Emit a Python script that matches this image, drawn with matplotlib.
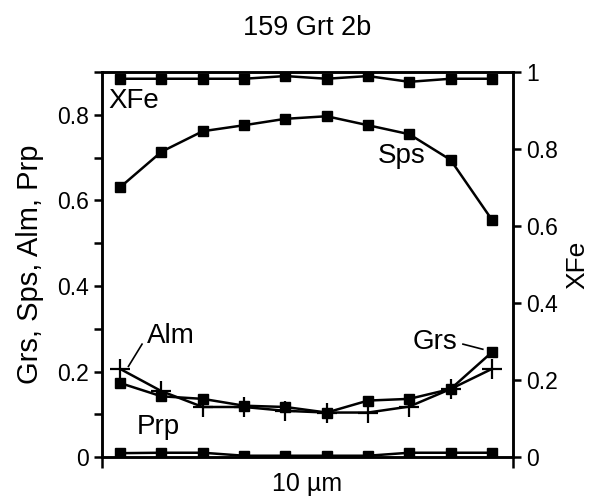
import numpy as np
import matplotlib
matplotlib.use("Agg")
from matplotlib import pyplot as plt

plt.rcParams['font.family'] = ['Liberation Sans', 'DejaVu Sans']

# analysis points along the profile
points = np.arange(1, 11)
sps = [0.631, 0.714, 0.762, 0.776, 0.791, 0.797, 0.776, 0.755, 0.695, 0.555]
alm = [0.206, 0.154, 0.117, 0.117, 0.108, 0.104, 0.104, 0.118, 0.159, 0.206]
grs = [0.173, 0.142, 0.136, 0.120, 0.117, 0.104, 0.132, 0.136, 0.159, 0.245]
prp = [0.009, 0.010, 0.010, 0.003, 0.003, 0.003, 0.003, 0.010, 0.010, 0.010]
xfe = [0.983, 0.983, 0.983, 0.983, 0.990, 0.983, 0.990, 0.975, 0.983, 0.983]

fig = plt.figure(figsize=(5.93, 4.98), dpi=100)
ax = fig.add_axes([0.172, 0.0823, 0.693, 0.7727])
ax2 = ax.twinx()

sq = dict(color='black', lw=1.8, marker='s', ms=6.5)
ax.plot(points, sps, **sq)
ax.plot(points, grs, **sq)
ax.plot(points, prp, **sq)
ax.plot(points, alm, color='black', lw=1.8, marker='+', ms=15, mew=1.6)
ax2.plot(points, xfe, **sq)

ax.set_xlim(0.56, 10.51)
ax.set_ylim(0, 0.9)
ax2.set_ylim(0, 1)

ax.set_yticks(np.arange(0, 0.81, 0.2))
ax.set_yticklabels(['0', '0.2', '0.4', '0.6', '0.8'])
ax.set_yticks(np.arange(0.1, 0.91, 0.2), minor=True)
ax2.set_yticks(np.arange(0, 1.01, 0.2))
ax2.set_yticklabels(['0', '0.2', '0.4', '0.6', '0.8', '1'])
ax.set_xticks([0.56, 10.51])
ax.set_xticklabels([])

for a in (ax, ax2):
    for s in a.spines.values():
        s.set_linewidth(1.8)
    a.tick_params(which='both', direction='out', width=1.8, length=6, labelsize=16.5)
ax.tick_params(axis='x', length=8)

ax.set_ylabel('Grs, Sps, Alm, Prp', fontsize=21, labelpad=9)
ax2.set_ylabel('XFe', fontsize=19, labelpad=5)
ax.set_xlabel('10 µm', fontsize=18, labelpad=-1)
ax.set_title('159 Grt 2b', fontsize=19.5, pad=27)

ax.text(0.72, 0.833, 'XFe', fontsize=20, va='center', ha='left')
ax.text(7.24, 0.704, 'Sps', fontsize=20, va='center', ha='left')
ax.text(1.65, 0.282, 'Alm', fontsize=20, va='center', ha='left')
ax.text(8.07, 0.268, 'Grs', fontsize=20, va='center', ha='left')
ax.text(1.41, 0.071, 'Prp', fontsize=20, va='center', ha='left')
ax.plot([1.2, 1.53], [0.212, 0.264], color='black', lw=1.2)
ax.plot([9.3, 9.78], [0.264, 0.252], color='black', lw=1.2)

fig.savefig('out.png', dpi=100)
